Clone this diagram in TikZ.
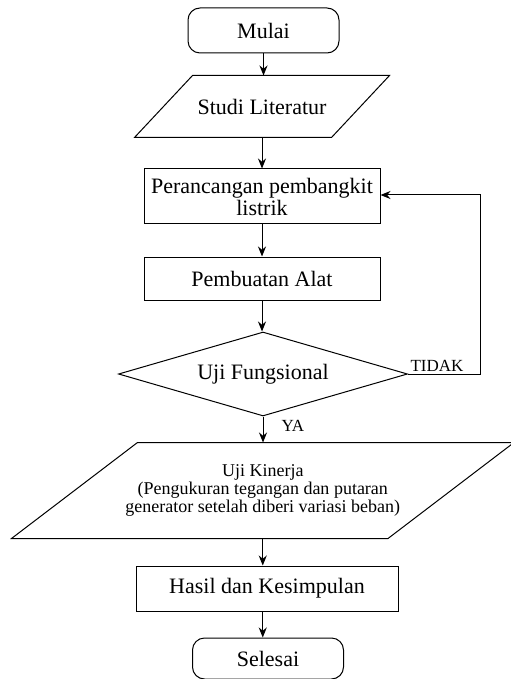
\documentclass[tikz,border=0pt]{standalone}
\usepackage{fontspec}
\setmainfont{Liberation Serif}
\usetikzlibrary{shapes.geometric,arrows.meta}
\begin{document}
\begin{tikzpicture}[x=0.5pt,y=-0.5pt,line width=0.5pt,
		every node/.style={font=\fontsize{11}{11}\selectfont},
		terminal/.style={draw,rounded corners=6pt,minimum width=75.5pt,minimum height=22.5pt},
		proses/.style={draw,minimum width=118pt,inner sep=2pt},
		data/.style={minimum width=98pt,minimum height=30.5pt},
		keputusan/.style={draw,diamond,aspect=3.44,minimum width=144.5pt,minimum height=42pt,inner sep=0pt},
		panah/.style={-{Stealth[length=5pt,width=4pt]}},
		ket/.style={font=\fontsize{8.5}{8.5}\selectfont,inner sep=1pt}]
		\useasboundingbox (0,0) rectangle (510,679);
		\node[terminal] (mulai) at (263.5,30.5) {Mulai};
		\node[data] (literatur) at (262,106.5) {Studi Literatur};
		\draw ([xshift=-14.5pt]literatur.south west) -- ([xshift=14.5pt]literatur.north west)
			-- ([xshift=14.5pt]literatur.north east) -- ([xshift=-14.5pt]literatur.south east) -- cycle;
		\node[proses,minimum height=27.5pt,align=center] (rancang) at (262,196.5) {Perancangan pembangkit\\listrik};
		\node[proses,minimum height=21.5pt] (alat) at (262,278.5) {Pembuatan Alat};
		\node[keputusan] (uji) at (263,374) {Uji Fungsional};
		\node[data,minimum width=187.75pt,minimum height=47.5pt,align=center,
			font=\fontsize{9}{9}\selectfont] (kinerja) at (262.75,490.5)
			{Uji Kinerja\\(Pengukuran tegangan dan putaran\\generator setelah diberi variasi beban)};
		\draw ([xshift=-31.5pt]kinerja.south west) -- ([xshift=31.5pt]kinerja.north west)
			-- ([xshift=31.5pt]kinerja.north east) -- ([xshift=-31.5pt]kinerja.south east) -- cycle;
		\node[proses,minimum width=131pt,minimum height=22.5pt] (hasil) at (267,588.5) {Hasil dan Kesimpulan};
		\node[terminal,minimum height=20.5pt] (selesai) at (268,658.5) {Selesai};
		\node[ket,anchor=south west] (tidak) at (uji.east) {TIDAK};
		\coordinate (balik) at (480,195);
		\draw[panah] (mulai.south) -- (mulai.south |- literatur.north);
		\draw[panah] (literatur.south) -- (literatur.south |- rancang.north);
		\draw[panah] (rancang.south) -- (rancang.south |- alat.north);
		\draw[panah] (alat.south) -- (alat.south |- uji.north);
		\draw[panah] (uji.south) -- (uji.south |- kinerja.north) node[ket,pos=0.35,right=8pt] {YA};
		\draw[panah] (kinerja.south) -- (kinerja.south |- hasil.north);
		\draw[panah] (hasil.south -| kinerja.south) -- (kinerja.south |- selesai.north);
		\draw[panah] (uji.east) -| (balik) -- (rancang.east |- balik);
	\end{tikzpicture}
\end{document}
